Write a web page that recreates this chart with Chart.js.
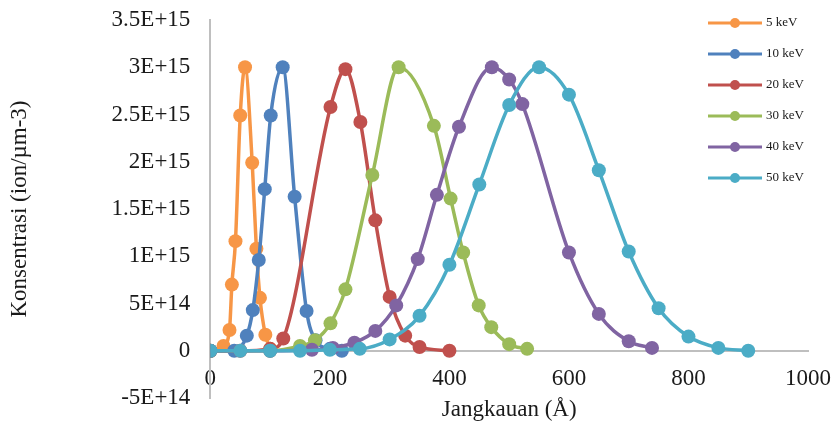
<!DOCTYPE html>
<html>
<head>
<meta charset="utf-8">
<script src="https://cdn.jsdelivr.net/npm/chart.js@4.4.1/dist/chart.umd.min.js"></script>
<style>
  html, body { margin: 0; padding: 0; background: #fff; }
  #wrap { width: 837px; height: 423px; position: relative; }
</style>
</head>
<body>
<div id="wrap"><canvas id="chart"></canvas></div>
<script>
// series names and colours (Excel 2007 palette)
const seriesNames = ['5 keV', '10 keV', '20 keV', '30 keV', '40 keV', '50 keV'];
const seriesColors = ['#F79646', '#4F81BD', '#C0504D', '#9BBB59', '#8064A2', '#4BACC6'];

// depth (Å) and concentration (ion/µm-3)
const x5 = [0, 22, 32, 36, 42, 50, 58, 70, 77, 83, 92, 100];
const y5 = [0, 0.05e15, 0.22e15, 0.70e15, 1.16e15, 2.49e15, 3.0e15, 1.99e15, 1.08e15, 0.56e15, 0.17e15, 0.02e15];

const x10 = [0, 40, 61, 71, 81, 91, 101, 121, 141, 161, 176, 200, 220];
const y10 = [0, 0, 0.16e15, 0.43e15, 0.96e15, 1.71e15, 2.49e15, 3.0e15, 1.63e15, 0.42e15, 0.11e15, 0.02e15, 0];

const x20 = [0, 50, 100, 122, 201, 226, 251, 276, 300, 326, 350, 400];
const y20 = [0, 0, 0.02e15, 0.13e15, 2.58e15, 2.98e15, 2.42e15, 1.38e15, 0.57e15, 0.16e15, 0.04e15, 0];

const x30 = [0, 100, 150, 175, 201, 226, 271, 315, 374, 402, 423, 449, 470, 500, 530];
const y30 = [0, 0, 0.05e15, 0.11e15, 0.29e15, 0.65e15, 1.86e15, 3.0e15, 2.38e15, 1.61e15, 1.04e15, 0.48e15, 0.25e15, 0.07e15, 0.02e15];

const x40 = [0, 100, 170, 205, 241, 276, 311, 347, 379, 416, 471, 500, 522, 600, 650, 700, 739];
const y40 = [0, 0, 0.01e15, 0.03e15, 0.085e15, 0.21e15, 0.48e15, 0.97e15, 1.65e15, 2.37e15, 3.0e15, 2.87e15, 2.61e15, 1.04e15, 0.39e15, 0.10e15, 0.03e15];

const x50 = [0, 50, 100, 150, 200, 250, 300, 350, 400, 450, 500, 550, 600, 650, 700, 750, 800, 850, 900];
const y50 = [0, 0, 0, 0, 0.01e15, 0.02e15, 0.12e15, 0.37e15, 0.91e15, 1.76e15, 2.60e15, 3.0e15, 2.71e15, 1.91e15, 1.05e15, 0.45e15, 0.15e15, 0.03e15, 0];

const seriesX = [x5, x10, x20, x30, x40, x50];
const seriesY = [y5, y10, y20, y30, y40, y50];

// axis ranges: min, max, step
const xRange = [0, 1000, 200];
const yRange = [-5e14, 3.5e15, 5e14];

const serif = "'Liberation Serif', 'DejaVu Serif', serif";
const textColor = '#1a1a1a';
const axisColor = '#bfbfbf';
const fontSize = 23;
const hiddenTicks = 'rgba(0,0,0,0)';

// Excel-like scientific labels: 3.5E+15, 5E+14, 0, -5E+14
const sciLabel = (v) => {
  if (v === 0) return '0';
  const exp = Math.floor(Math.log10(Math.abs(v)));
  const m = Math.round(v / Math.pow(10, exp) * 100) / 100;
  return m + 'E+' + exp;
};

// legend drawn as line + marker, inside the plot's upper right corner
const lineLegend = {
  id: 'lineLegend',
  afterDraw(chart) {
    const ctx = chart.ctx;
    chart.data.datasets.forEach((ds, i) => {
      const y = 23 + i * 31;
      ctx.save();
      ctx.strokeStyle = ds.borderColor;
      ctx.lineWidth = 3;
      ctx.beginPath(); ctx.moveTo(708, y); ctx.lineTo(762, y); ctx.stroke();
      ctx.fillStyle = ds.borderColor;
      ctx.beginPath(); ctx.arc(735, y, 5, 0, Math.PI * 2); ctx.fill();
      ctx.fillStyle = textColor;
      ctx.font = '13px ' + serif;
      ctx.textBaseline = 'middle';
      ctx.fillText(ds.label, 766, y);
      ctx.restore();
    });
  }
};

const datasets = seriesNames.map((name, i) => ({
  label: name,
  data: seriesX[i].map((x, j) => ({ x, y: seriesY[i][j] })),
  borderColor: seriesColors[i],
  backgroundColor: seriesColors[i],
  borderWidth: 3.5,
  pointRadius: 7,
  pointHoverRadius: 7,
  pointBorderWidth: 0,
  cubicInterpolationMode: 'monotone',
  fill: false,
  order: seriesNames.length - i   // later series on top, as in Excel
}));

new Chart(document.getElementById('chart'), {
  type: 'line',
  data: { datasets },
  options: {
    responsive: true,
    maintainAspectRatio: false,
    animation: false,
    events: [],
    layout: { padding: { top: 20, right: 29, bottom: 25, left: 0 } },
    plugins: { legend: { display: false }, tooltip: { enabled: false } },
    scales: {
      x: {
        type: 'linear',
        position: { y: 0 },
        min: xRange[0], max: xRange[1],
        ticks: { stepSize: xRange[2], padding: 4, color: textColor, font: { family: serif, size: fontSize }, callback: v => String(v) },
        // invisible tick marks keep the labels away from the axis line
        grid: { display: true, drawOnChartArea: false, drawTicks: true, tickLength: 10, tickColor: hiddenTicks },
        border: { display: true, color: axisColor, width: 2 },
        title: { display: true, text: 'Jangkauan (Å)', color: textColor, font: { family: serif, size: fontSize }, padding: { top: 0, bottom: 0 } }
      },
      y: {
        type: 'linear',
        position: 'left',
        min: yRange[0], max: yRange[1],
        ticks: { stepSize: yRange[2], padding: 4, color: textColor, font: { family: serif, size: fontSize }, callback: sciLabel },
        grid: { display: true, drawOnChartArea: false, drawTicks: true, tickLength: 16, tickColor: hiddenTicks },
        border: { display: true, color: axisColor, width: 2 },
        title: { display: true, text: 'Konsentrasi (ion/µm-3)', color: textColor, font: { family: serif, size: fontSize }, padding: { top: 6, bottom: 74 } }
      }
    }
  },
  plugins: [lineLegend]
});
</script>
</body>
</html>
